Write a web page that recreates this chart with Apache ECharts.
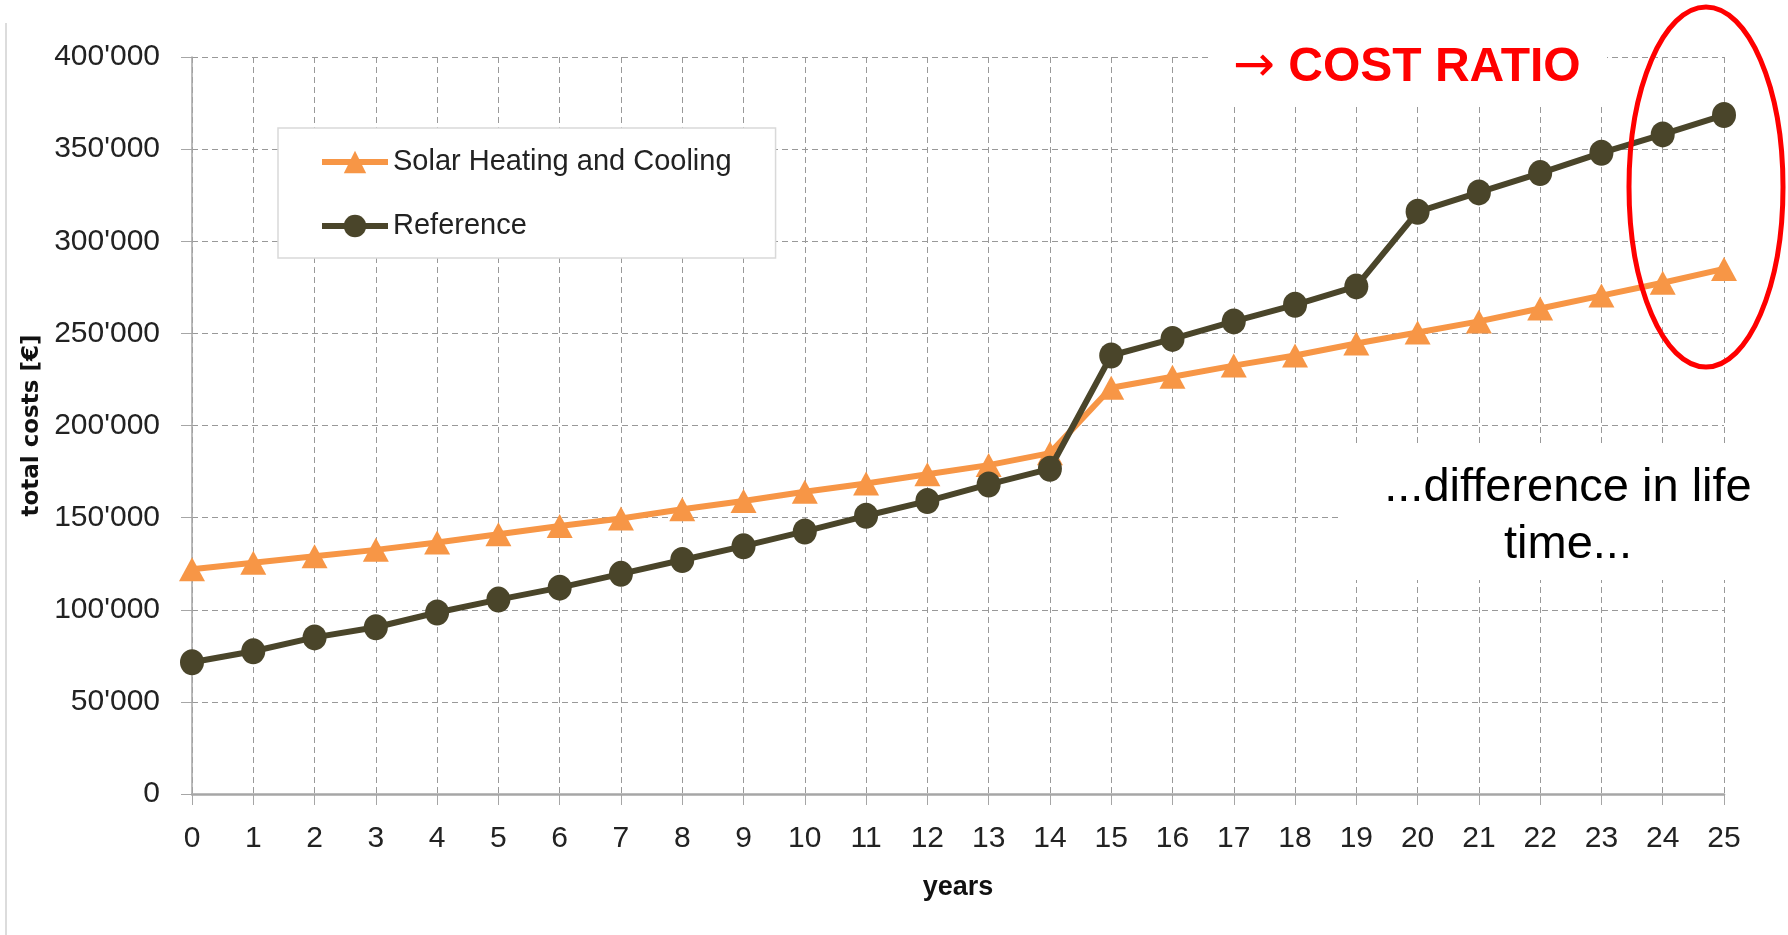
<!DOCTYPE html>
<html>
<head>
<meta charset="utf-8">
<script src="https://cdn.jsdelivr.net/npm/echarts@6/dist/echarts.min.js"></script>
<style>
html,body{margin:0;padding:0;background:#fff;}
#chart{width:1788px;height:935px;}
</style>
</head>
<body>
<div id="chart"></div>
<script>
const years = ['0','1','2','3','4','5','6','7','8','9','10','11','12','13','14','15','16','17','18','19','20','21','22','23','24','25'];
const solarValues = [122000,125500,129000,132500,136500,141000,145500,149500,154500,159000,164000,168500,173500,178500,185000,220500,226500,232500,238000,244500,250500,256500,263500,270500,277500,285000];
const referenceValues = [71500,77500,85000,90500,98500,105500,112000,119500,127000,134500,142500,151000,159000,168000,176500,238000,247000,256500,265500,275500,316000,326500,337000,348000,358000,368500];
const yTicks = {min:0, max:400000, interval:50000};
const seriesNames = ['Solar Heating and Cooling','Reference'];

const chart = echarts.init(document.getElementById('chart'), null, {renderer:'canvas'});
const fmt = v => v === 0 ? '0' : (Math.floor(v/1000) + "'" + String(v%1000).padStart(3,'0'));
const F = 'Liberation Sans';

chart.setOption({
  animation:false,
  backgroundColor:'#fff',
  grid:{left:192, right:64, top:57, bottom:141},
  legend:{
    orient:'vertical', left:278, top:128,
    padding:[19,44,17,41],
    backgroundColor:'#fff', borderColor:'#d9d9d9', borderWidth:1.5,
    itemWidth:66, itemHeight:28, itemGap:34,
    lineStyle:{width:6},
    textStyle:{fontFamily:F, fontSize:29, color:'#222', lineHeight:30},
    data:seriesNames
  },
  xAxis:{
    type:'category', data:years, boundaryGap:false,
    name:'years', nameLocation:'middle', nameGap:80,
    nameTextStyle:{fontFamily:F, fontWeight:'bold', fontSize:27, color:'#111'},
    axisLine:{lineStyle:{color:'#a6a6a6', width:2.5}},
    axisTick:{show:true, length:11, lineStyle:{color:'#a6a6a6', width:1}},
    axisLabel:{fontFamily:F, fontSize:30, color:'#222', margin:30},
    splitLine:{show:true, lineStyle:{color:'#999', width:1, type:[6,4]}}
  },
  yAxis:{
    type:'value', min:yTicks.min, max:yTicks.max, interval:yTicks.interval,
    name:'total costs [€]', nameLocation:'middle', nameGap:134,
    nameTextStyle:{fontFamily:'DejaVu Sans', fontWeight:'bold', fontSize:23, color:'#111'},
    axisLine:{show:true, lineStyle:{color:'#a6a6a6', width:1.5}},
    axisTick:{show:true, length:11, lineStyle:{color:'#a6a6a6', width:1}},
    axisLabel:{fontFamily:F, fontSize:30, color:'#222', margin:32, formatter:fmt},
    splitLine:{show:true, lineStyle:{color:'#999', width:1, type:[6,4]}}
  },
  series:[
    {
      name:seriesNames[0], type:'line', data:solarValues,
      symbol:'triangle', symbolSize:[26,24],
      lineStyle:{color:'#F79646', width:6},
      itemStyle:{color:'#F79646'}, z:2
    },
    {
      name:seriesNames[1], type:'line', data:referenceValues,
      symbol:'circle', symbolSize:[24,26],
      lineStyle:{color:'#4A452A', width:6},
      itemStyle:{color:'#4A452A'}, z:3
    }
  ],
  graphic:[
    {type:'line', shape:{x1:6,y1:23,x2:6,y2:935}, style:{stroke:'#d0d0d0', lineWidth:1.5}, z:1},
    {type:'rect', shape:{x:1210,y:0,width:397,height:103}, style:{fill:'#fff'}, z:1},
    {type:'rect', shape:{x:1341,y:443,width:447,height:137}, style:{fill:'#fff'}, z:1},
    {type:'text', x:1233, y:68, z:10, style:{
      text:'{a|→} COST RATIO', fill:'#FF0000', fontFamily:F, fontWeight:'bold', fontSize:48,
      verticalAlign:'middle', align:'left',
      rich:{a:{fontFamily:'DejaVu Sans', fontWeight:'normal', fontSize:50, fill:'#FF0000'}}
    }},
    {type:'text', x:1568, y:517, z:10, style:{
      text:'...difference in life\ntime...', fill:'#000', fontFamily:F, fontSize:47,
      lineHeight:57, align:'center', verticalAlign:'middle'
    }},
    {type:'ellipse', shape:{cx:1706, cy:187, rx:77, ry:180}, z:10,
      style:{fill:'none', stroke:'#FF0000', lineWidth:5}}
  ]
});
</script>
</body>
</html>
